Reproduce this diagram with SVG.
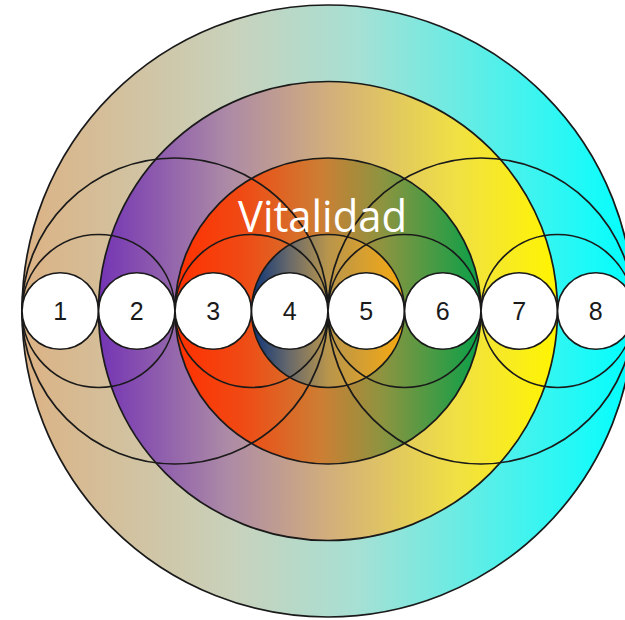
<svg xmlns="http://www.w3.org/2000/svg" width="625" height="620" viewBox="0 0 625 620">
  <defs>
    <linearGradient id="gOuter" x1="0" y1="0" x2="1" y2="0">
      <stop offset="0" stop-color="#dcb284"/>
      <stop offset="0.35" stop-color="#c8d2bc"/>
      <stop offset="0.55" stop-color="#a6e0d4"/>
      <stop offset="1" stop-color="#00ffff"/>
    </linearGradient>
    <linearGradient id="gPurple" x1="0" y1="0" x2="1" y2="0">
      <stop offset="0" stop-color="#7434b4"/>
      <stop offset="0.28" stop-color="#ac8aa6"/>
      <stop offset="0.5" stop-color="#d2ae7c"/>
      <stop offset="0.78" stop-color="#f0e044"/>
      <stop offset="1" stop-color="#fff500"/>
    </linearGradient>
    <linearGradient id="gRed" x1="0" y1="0" x2="1" y2="0">
      <stop offset="0" stop-color="#ff3000"/>
      <stop offset="0.22" stop-color="#f04a14"/>
      <stop offset="0.48" stop-color="#cc7f34"/>
      <stop offset="0.68" stop-color="#8c9440"/>
      <stop offset="1" stop-color="#08a048"/>
    </linearGradient>
    <linearGradient id="gInner" x1="0" y1="0" x2="1" y2="0">
      <stop offset="0" stop-color="#0c3478"/>
      <stop offset="0.25" stop-color="#6a6a6a"/>
      <stop offset="0.5" stop-color="#b8954c"/>
      <stop offset="1" stop-color="#f8aa10"/>
    </linearGradient>
    <style>
      .ring { stroke: #1a1a1a; stroke-width: 1.7; }
      .arc { fill: none; stroke: #1a1a1a; stroke-width: 1.7; }
      .node circle { fill: #ffffff; stroke: #1a1a1a; stroke-width: 1.7; }
      .num { font-family: "Liberation Sans", Arial, sans-serif; font-size: 25px; fill: #1a1a1a; text-anchor: middle; }
      .title { font-family: "Open Sans", "Noto Sans", sans-serif; font-size: 43px; fill: #ffffff; }
    </style>
  </defs>

  <g id="rings">
    <circle class="ring" cx="328" cy="311" r="306" fill="url(#gOuter)"/>
    <circle class="ring" cx="328" cy="311" r="229.5" fill="url(#gPurple)"/>
    <circle class="ring" cx="328" cy="311" r="153" fill="url(#gRed)"/>
    <circle class="ring" cx="328" cy="311" r="76.5" fill="url(#gInner)"/>
  </g>

  <g id="connectors">
    <circle class="arc" cx="98.5" cy="311" r="76.5"/>
    <circle class="arc" cx="175" cy="311" r="153"/>
    <circle class="arc" cx="251.5" cy="311" r="76.5"/>
    <circle class="arc" cx="404.5" cy="311" r="76.5"/>
    <circle class="arc" cx="481" cy="311" r="153"/>
    <circle class="arc" cx="557.5" cy="311" r="76.5"/>
  </g>

  <g id="node1" class="node"><circle cx="60.25" cy="311" r="38.25"/><text class="num" x="60.25" y="320">1</text></g>
  <g id="node2" class="node"><circle cx="136.75" cy="311" r="38.25"/><text class="num" x="136.75" y="320">2</text></g>
  <g id="node3" class="node"><circle cx="213.25" cy="311" r="38.25"/><text class="num" x="213.25" y="320">3</text></g>
  <g id="node4" class="node"><circle cx="289.75" cy="311" r="38.25"/><text class="num" x="289.75" y="320">4</text></g>
  <g id="node5" class="node"><circle cx="366.25" cy="311" r="38.25"/><text class="num" x="366.25" y="320">5</text></g>
  <g id="node6" class="node"><circle cx="442.75" cy="311" r="38.25"/><text class="num" x="442.75" y="320">6</text></g>
  <g id="node7" class="node"><circle cx="519.25" cy="311" r="38.25"/><text class="num" x="519.25" y="320">7</text></g>
  <g id="node8" class="node"><circle cx="595.75" cy="311" r="38.25"/><text class="num" x="595.75" y="320">8</text></g>

  <g id="label">
    <text class="title" x="238" y="232" textLength="169" lengthAdjust="spacingAndGlyphs">Vitalidad</text>
  </g>
</svg>
